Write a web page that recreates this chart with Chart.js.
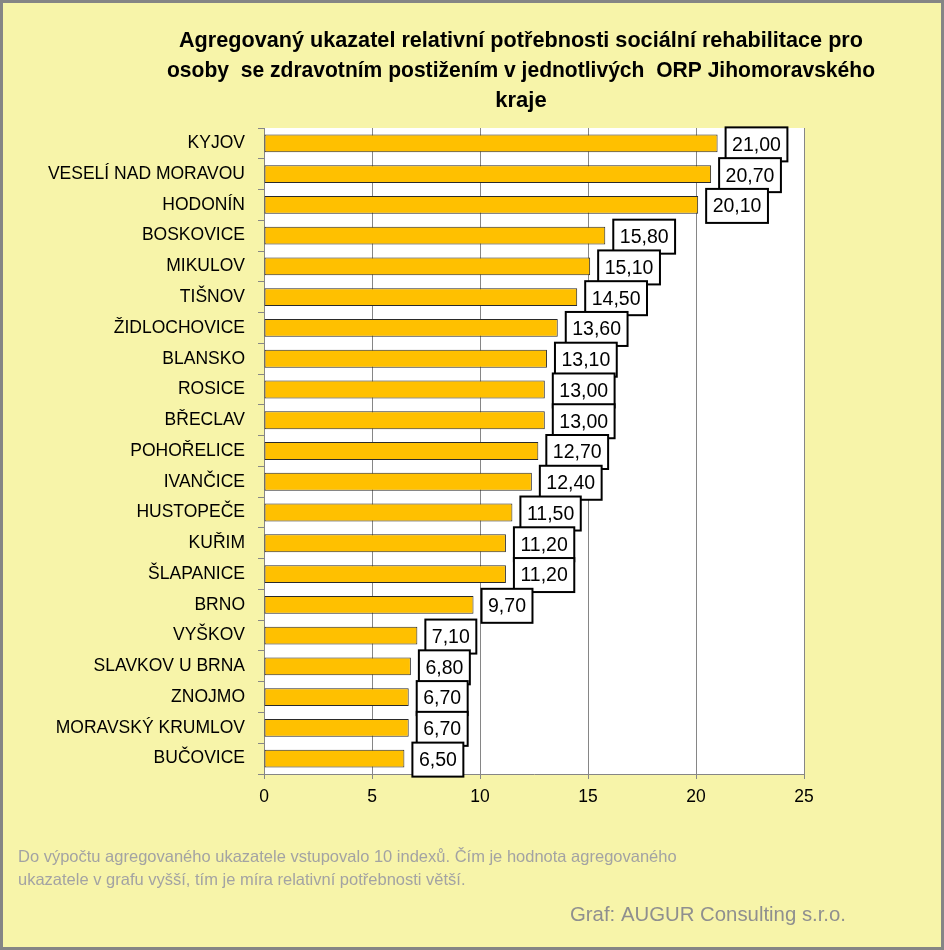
<!DOCTYPE html>
<html lang="cs">
<head>
    <meta charset="UTF-8">
    <title>Agregovaný ukazatel - sociální rehabilitace</title>
    <script src="https://cdn.jsdelivr.net/npm/chart.js"></script>
    <style>
        body { margin: 0; background: #F7F4A9; }
        canvas { display: block; }
    </style>
</head>
<body>
    <canvas id="orpChart" width="944" height="950"></canvas>
    <script>
        // data
        const categories = ['KYJOV', 'VESELÍ NAD MORAVOU', 'HODONÍN', 'BOSKOVICE', 'MIKULOV', 'TIŠNOV',
            'ŽIDLOCHOVICE', 'BLANSKO', 'ROSICE', 'BŘECLAV', 'POHOŘELICE', 'IVANČICE', 'HUSTOPEČE',
            'KUŘIM', 'ŠLAPANICE', 'BRNO', 'VYŠKOV', 'SLAVKOV U BRNA', 'ZNOJMO', 'MORAVSKÝ KRUMLOV', 'BUČOVICE'];
        const values = [21.0, 20.7, 20.1, 15.8, 15.1, 14.5, 13.6, 13.1, 13.0, 13.0, 12.7, 12.4, 11.5,
            11.2, 11.2, 9.7, 7.1, 6.8, 6.7, 6.7, 6.5];
        const xTicks = [0, 5, 10, 15, 20, 25];

        const titleLines = [
            'Agregovaný ukazatel relativní potřebnosti sociální rehabilitace pro',
            'osoby  se zdravotním postižením v jednotlivých  ORP Jihomoravského',
            'kraje'
        ];
        const noteLines = [
            'Do výpočtu agregovaného ukazatele vstupovalo 10 indexů. Čím je hodnota agregovaného',
            'ukazatele v grafu vyšší, tím je míra relativní potřebnosti větší.'
        ];
        const sourceText = 'Graf: AUGUR Consulting s.r.o.';

        const fmt = v => v.toFixed(2).replace('.', ',');

        // pozadí, rámeček a texty
        const decorPlugin = {
            id: 'decor',
            beforeDraw(chart) {
                const { ctx, chartArea: a } = chart;
                ctx.save();
                ctx.fillStyle = '#F7F4A9';
                ctx.fillRect(0, 0, chart.width, chart.height);
                ctx.fillStyle = '#FFFFFF';
                ctx.fillRect(a.left, a.top, a.right - a.left, a.bottom - a.top);
                ctx.restore();
            },
            afterDraw(chart) {
                const ctx = chart.ctx;
                ctx.save();
                ctx.strokeStyle = '#858585';
                ctx.lineWidth = 3;
                ctx.strokeRect(1.5, 1.5, chart.width - 3, chart.height - 3);

                ctx.fillStyle = '#000';
                ctx.font = 'bold 22px "Liberation Sans", Arial, sans-serif';
                ctx.textAlign = 'center';
                ctx.textBaseline = 'middle';
                const widths = [684, 708, 52];
                titleLines.forEach((t, i) => ctx.fillText(t, 521, 41 + i * 30, widths[i]));

                ctx.fillStyle = '#A3A3A3';
                ctx.font = '16.5px "Liberation Sans", Arial, sans-serif';
                ctx.textAlign = 'left';
                ctx.fillText(noteLines[0], 18, 857, 678);
                ctx.fillText(noteLines[1], 18, 880, 466);

                ctx.fillStyle = '#8F8F8F';
                ctx.font = '20.5px "Liberation Sans", Arial, sans-serif';
                ctx.fillText(sourceText, 570, 915, 276);
                ctx.restore();
            }
        };

        // popisky hodnot v rámečcích
        const boxLabels = {
            id: 'boxLabels',
            afterDatasetsDraw(chart) {
                const ctx = chart.ctx;
                const meta = chart.getDatasetMeta(0);
                ctx.save();
                ctx.font = '19.5px "Liberation Sans", Arial, sans-serif';
                ctx.textAlign = 'center';
                ctx.textBaseline = 'middle';
                meta.data.forEach((bar, i) => {
                    const txt = fmt(values[i]);
                    const w = ctx.measureText(txt).width + 13;
                    const h = 34;
                    const x = bar.x + 8;
                    const y = bar.y - h / 2 + 1;
                    ctx.fillStyle = '#FFFFFF';
                    ctx.fillRect(x, y, w, h);
                    ctx.strokeStyle = '#000';
                    ctx.lineWidth = 2;
                    ctx.strokeRect(x, y, w, h);
                    ctx.fillStyle = '#000';
                    ctx.fillText(txt, x + w / 2, y + h / 2 + 1);
                });
                ctx.restore();
            }
        };

        new Chart(document.getElementById('orpChart'), {
            type: 'bar',
            data: {
                labels: categories,
                datasets: [{
                    data: values,
                    backgroundColor: '#FFC000',
                    borderColor: '#2A2A2A',
                    borderWidth: 1,
                    borderSkipped: false,
                    categoryPercentage: 1,
                    barPercentage: 0.58
                }]
            },
            options: {
                indexAxis: 'y',
                responsive: false,
                animation: false,
                layout: { padding: { left: 0, right: 140, top: 128, bottom: 0 } },
                plugins: {
                    legend: { display: false },
                    title: { display: false },
                    tooltip: { enabled: false }
                },
                scales: {
                    x: {
                        min: 0,
                        max: 25,
                        afterBuildTicks: s => { s.ticks = xTicks.map(v => ({ value: v })); },
                        afterFit: s => { s.height = 176; },
                        grid: { color: '#868686', tickLength: 5, drawOnChartArea: true },
                        border: { color: '#868686' },
                        ticks: { color: '#000', padding: 8, font: { size: 17.5, family: '"Liberation Sans", Arial, sans-serif' } }
                    },
                    y: {
                        afterFit: s => { s.width = 264; },
                        grid: { color: '#868686', tickLength: 6, drawOnChartArea: false, offset: true },
                        border: { color: '#868686' },
                        ticks: { color: '#000', padding: 13, font: { size: 17.5, family: '"Liberation Sans", Arial, sans-serif' } }
                    }
                }
            },
            plugins: [decorPlugin, boxLabels]
        });
    </script>
</body>
</html>
